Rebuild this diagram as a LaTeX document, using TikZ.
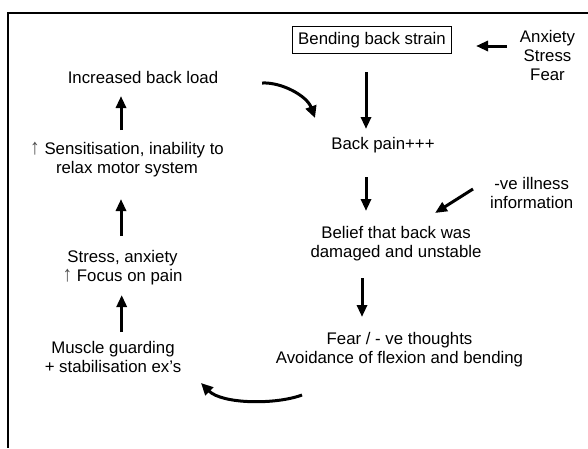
\documentclass[tikz,border=0pt]{standalone}
\usepackage{fontspec}
\setmainfont{Liberation Sans}
\usetikzlibrary{arrows.meta}

\tikzset{
  lbl/.style={font=\fontsize{16.8}{19}\selectfont, align=center, inner sep=0pt},
  boxed/.style={lbl, draw, line width=0.8pt, inner xsep=6pt, inner ysep=5.5pt},
  arr/.style={line width=3pt, -{Triangle[length=12pt,width=10pt]}},
  curvearr/.style={line width=3pt, -{Triangle[length=12pt,width=11pt]}},
  frame/.style={line width=2pt}
}
\newcommand{\upmark}{{\color{black!70}\scalebox{1.15}[1.3]{↑}}}

\begin{document}
\begin{tikzpicture}[x=1pt,y=-1pt]
  \useasboundingbox (0,0) rectangle (588,448);

  % open frame: top and left edges only
  \draw[frame] (588,13) -- (8,13) -- (8,448);

  % right-hand chain
  \node[boxed] (strain) at (372,40) {Bending back strain};
  \node[lbl] (anx) at (547.5,55) {Anxiety\\Stress\\Fear};
  \node[lbl] (pain) at (383,145) {Back pain+++};
  \node[lbl] (ill) at (531.7,193) {-ve illness\\information};
  \node[lbl] (belief) at (396,244) {Belief that back was\\damaged and unstable};
  \node[lbl] (fear) at (399.5,350) {Fear / - ve thoughts\\Avoidance of flexion and bending};

  % left-hand chain
  \node[lbl] (muscle) at (113,357) {Muscle guarding\\+ stabilisation ex's};
  \node[lbl] (stress) at (122.5,268) {Stress, anxiety\\\upmark{} Focus on pain};
  \node[lbl] (sens) at (127,160) {\upmark{} Sensitisation, inability to\\relax motor system};
  \node[lbl] (load) at (143,77) {Increased back load};

  % straight connectors
  \draw[arr] ([xshift=-40.5pt,yshift=9pt]anx.center) -- ([xshift=104pt,yshift=-6pt]strain.center);
  \draw[arr] ([xshift=-6pt,yshift=-32pt]strain.center) -- ([xshift=-17pt,yshift=16pt]pain.center);
  \draw[arr] ([xshift=-17pt,yshift=-32pt]pain.center) -- ([xshift=-30pt,yshift=33pt]belief.center);
  \draw[arr] ([xshift=-58.7pt,yshift=4pt]ill.center) -- ([xshift=39pt,yshift=31pt]belief.center);
  \draw[arr] ([xshift=-34pt,yshift=-34pt]belief.center) -- ([xshift=-37.5pt,yshift=33pt]fear.center);
  \draw[arr] ([xshift=8.7pt,yshift=25pt]muscle.center) -- ([xshift=-0.8pt,yshift=-27pt]stress.center);
  \draw[arr] ([xshift=-1.5pt,yshift=32pt]stress.center) -- ([xshift=-6pt,yshift=-39pt]sens.center);
  \draw[arr] ([xshift=-6pt,yshift=30pt]sens.center) -- ([xshift=-22pt,yshift=-19pt]load.center);

  % curved connectors closing the loop
  \draw[curvearr] ([xshift=119pt,yshift=-6pt]load.center)
    .. controls +(20,-1) and +(-8,-22) .. ([xshift=-68pt,yshift=27pt]pain.center);
  \draw[curvearr] ([xshift=-97.5pt,yshift=-45pt]fear.center)
    .. controls +(-27,10) and +(21,21) .. ([xshift=88pt,yshift=-26pt]muscle.center);
\end{tikzpicture}
\end{document}
